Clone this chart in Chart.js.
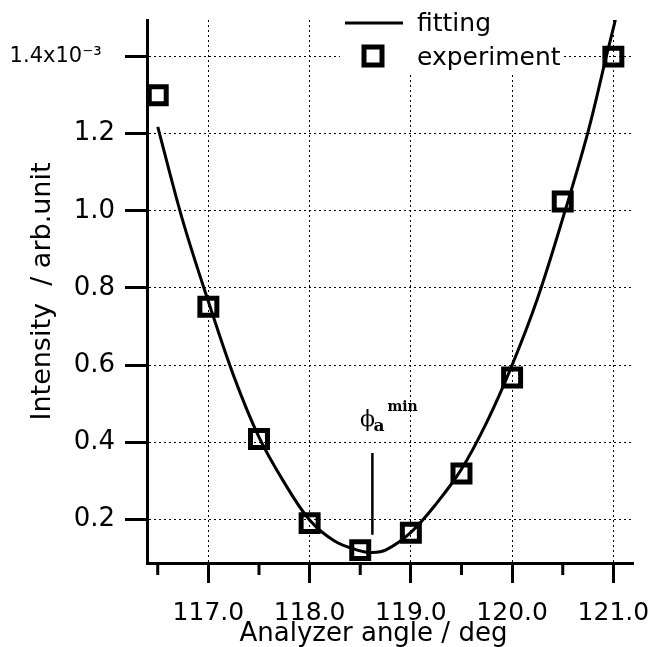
<!DOCTYPE html>
<html>
<head>
<meta charset="utf-8">
<script src="https://cdn.jsdelivr.net/npm/chart.js@4.4.0/dist/chart.umd.min.js"></script>
<style>
  html, body { margin: 0; padding: 0; background: #fff; overflow: hidden; }
  canvas { display: block; }
</style>
</head>
<body>
<canvas id="grafico" width="650" height="647"></canvas>
<script>
// experiment (squares)
const angExp = [116.5, 117.0, 117.5, 118.0, 118.5, 119.0, 119.5, 120.0, 120.5, 121.0];
const intExp = [1.30, 0.751, 0.408, 0.19, 0.12, 0.165, 0.319, 0.568, 1.024, 1.40];

// fitting curve
const angFit = [116.5, 116.75, 117.0, 117.25, 117.5, 117.75, 118.0, 118.25, 118.5, 118.6,
                118.75, 119.0, 119.25, 119.5, 119.75, 120.0, 120.25, 120.5, 120.75, 120.93, 121.02];
const intFit = [1.218, 0.972, 0.765, 0.572, 0.413, 0.295, 0.198, 0.143, 0.118, 0.114,
                0.12, 0.166, 0.24, 0.33, 0.452, 0.6, 0.772, 0.98, 1.205, 1.40, 1.495];

// phi_a^min marker line
const minAng = [118.62, 118.62];
const minInt = [0.372, 0.16];

const xTicks = [117, 118, 119, 120, 121];
const xMinor = [116.5, 117.5, 118.5, 119.5, 120.5];
const yTicks = [0.2, 0.4, 0.6, 0.8, 1.0, 1.2, 1.4];

const fuente = '"DejaVu Sans", sans-serif';
const serif = '"DejaVu Serif", "Liberation Serif", serif';

const toXY = (xs, ys) => xs.map((x, i) => ({ x: x, y: ys[i] }));

const sinPadding = s => { s.paddingLeft = 0; s.paddingRight = 0; s.paddingTop = 0; s.paddingBottom = 0; };

// minor ticks, legend box and the phi label
const extras = {
  id: "extras",
  afterDraw(chart) {
    const ctx = chart.ctx;
    const sx = chart.scales.x;
    const sy = chart.scales.y;
    const base = chart.chartArea.bottom;

    ctx.save();
    ctx.strokeStyle = "#000";
    ctx.lineWidth = 3;
    xMinor.forEach(v => {
      const px = sx.getPixelForValue(v);
      ctx.beginPath();
      ctx.moveTo(px, base);
      ctx.lineTo(px, base + 12);
      ctx.stroke();
    });

    // legend
    ctx.fillStyle = "#fff";
    ctx.fillRect(340, 0, 222, 75);
    ctx.beginPath();
    ctx.moveTo(345, 23);
    ctx.lineTo(403, 23);
    ctx.stroke();
    ctx.lineWidth = 5;
    ctx.strokeRect(373 - 9, 56 - 9, 18, 18);
    ctx.fillStyle = "#000";
    ctx.font = "25px " + fuente;
    ctx.textBaseline = "alphabetic";
    ctx.fillText("fitting", 417, 31);
    ctx.fillText("experiment", 417, 65);

    // phi_a^min
    const px = sx.getPixelForValue(minAng[0]);
    const py = sy.getPixelForValue(minInt[0]);
    ctx.font = "22px " + serif;
    ctx.textAlign = "center";
    ctx.fillText("\u03D5", px - 5, py - 27);
    ctx.textAlign = "left";
    ctx.font = "bold 17px " + serif;
    ctx.fillText("a", px + 1, py - 22);
    ctx.font = "bold 14px " + serif;
    ctx.fillText("min", px + 15, py - 42);
    ctx.restore();
  }
};

new Chart(document.getElementById("grafico"), {
  type: "scatter",
  data: {
    datasets: [
      {
        label: "experiment",
        data: toXY(angExp, intExp),
        pointStyle: "rect",
        pointRadius: 12,
        pointBorderWidth: 5,
        pointBorderColor: "#000",
        pointBackgroundColor: "rgba(0,0,0,0)",
        showLine: false
      },
      {
        label: "fitting",
        data: toXY(angFit, intFit),
        showLine: true,
        borderColor: "#000",
        borderWidth: 3,
        pointRadius: 0,
        tension: 0.35
      },
      {
        label: "min",
        data: toXY(minAng, minInt),
        showLine: true,
        borderColor: "#000",
        borderWidth: 2.5,
        pointRadius: 0
      }
    ]
  },
  options: {
    responsive: false,
    animation: false,
    devicePixelRatio: 1,
    layout: { padding: { top: 20, right: 0, left: 0, bottom: 0 } },
    plugins: {
      legend: { display: false },
      tooltip: { enabled: false }
    },
    scales: {
      x: {
        type: "linear",
        min: 116.394,
        max: 121.194,
        afterFit: s => { s.height = 84; sinPadding(s); },
        afterBuildTicks: s => { s.ticks = xTicks.map(v => ({ value: v })); },
        grid: {
          color: "#000",
          lineWidth: 1,
          tickLength: 20,
          tickWidth: 3,
          tickColor: "#000",
          tickBorderDash: []
        },
        border: { display: true, color: "#000", width: 3, dash: [2, 3] },
        ticks: {
          color: "#000",
          font: { family: fuente, size: 25 },
          padding: 15,
          maxRotation: 0,
          autoSkip: false,
          callback: v => v.toFixed(1)
        },
        title: {
          display: true,
          text: "Analyzer angle / deg    ",
          color: "#000",
          font: { family: fuente, size: 26 },
          padding: { top: 0, bottom: -3 }
        }
      },
      y: {
        type: "linear",
        min: 0.0866,
        max: 1.495,
        afterFit: s => { s.width = 147; sinPadding(s); },
        afterBuildTicks: s => { s.ticks = yTicks.map(v => ({ value: v })); },
        grid: {
          color: "#000",
          lineWidth: 1,
          tickLength: 22,
          tickWidth: 3,
          tickColor: "#000",
          tickBorderDash: []
        },
        border: { display: true, color: "#000", width: 3, dash: [2, 3] },
        ticks: {
          color: "#000",
          font: c => ({ family: fuente, size: c.tick && c.tick.value === 1.4 ? 21 : 26 }),
          padding: 10,
          callback: v => v === 1.4 ? "1.4x10\u207B\u00B3  " : v.toFixed(1)
        },
        title: {
          display: true,
          text: "Intensity  / arb.unit",
          color: "#000",
          font: { family: fuente, size: 27 },
          padding: { top: 27, bottom: 0 }
        }
      }
    }
  },
  plugins: [extras]
});
</script>
</body>
</html>
